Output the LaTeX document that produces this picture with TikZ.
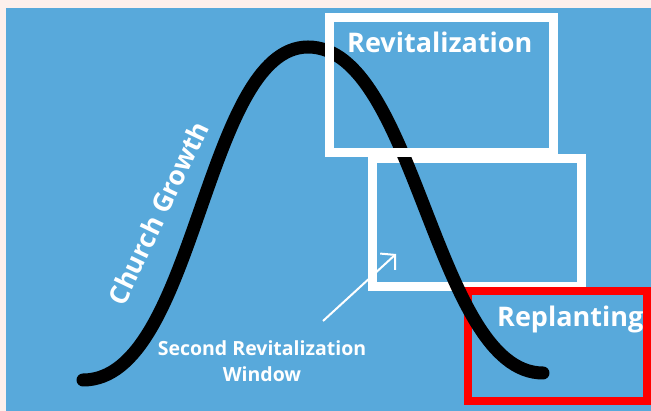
\documentclass[tikz,border=0pt]{standalone}
\usepackage{fontspec}
\setmainfont{Open Sans}
\usetikzlibrary{arrows.meta}
\definecolor{skyblue}{HTML}{58A9DB}
\definecolor{paleback}{HTML}{FDF0EC}

\begin{document}
\begin{tikzpicture}[x=1pt,y=-1pt,
    stage/.style={draw=white,line width=9pt,inner sep=0pt},
    plant/.style={draw=red,line width=8pt,inner sep=0pt},
    title/.style={text=white,inner sep=0pt,font=\bfseries\fontsize{27}{32}\selectfont}]
        \useasboundingbox (0,0) rectangle (651,411);
        \fill[paleback] (0,0) rectangle (651,411);
        \fill[skyblue] (6,8) rectangle (651,411);

        \coordinate (start) at (83,380);
        \coordinate (top)   at (308,47);
        \coordinate (stop)  at (543,373);
        \coordinate (tail)  at (323,321);
        \coordinate (tip)   at (396,254);

        \node[stage,minimum width=208.5pt,minimum height=128pt] (second) at (476.75,222.5) {};
        \node[plant,minimum width=178.5pt,minimum height=110.5pt]  (replant) at (557.25,346) {};

        % the growth curve
        \draw[line width=13pt,line cap=round] (start) .. controls +(113,0) and +(-104,0) .. (top)
              .. controls +(108,0) and +(-108,0) .. (stop);

        \node[stage,minimum width=224.5pt,minimum height=135pt] (revital) at (441.25,85) {};

        \node[title,anchor=base west] (revlabel) at (347,53) {Revitalization};
        \node[title,anchor=base west] (replabel) at (497,327) {Replanting};
        \node[title,rotate=64.5,font=\bfseries\fontsize{26.5}{31}\selectfont] (growth) at (158,213) {Church Growth};
        \node[title,align=center,font=\bfseries\fontsize{19.5}{26}\selectfont] (window) at (262,361) {Second Revitalization\\Window};

        \draw[white,line width=2pt,-{Straight Barb[length=10pt,width=22pt]}] (tail) -- (tip);
    \end{tikzpicture}
\end{document}
